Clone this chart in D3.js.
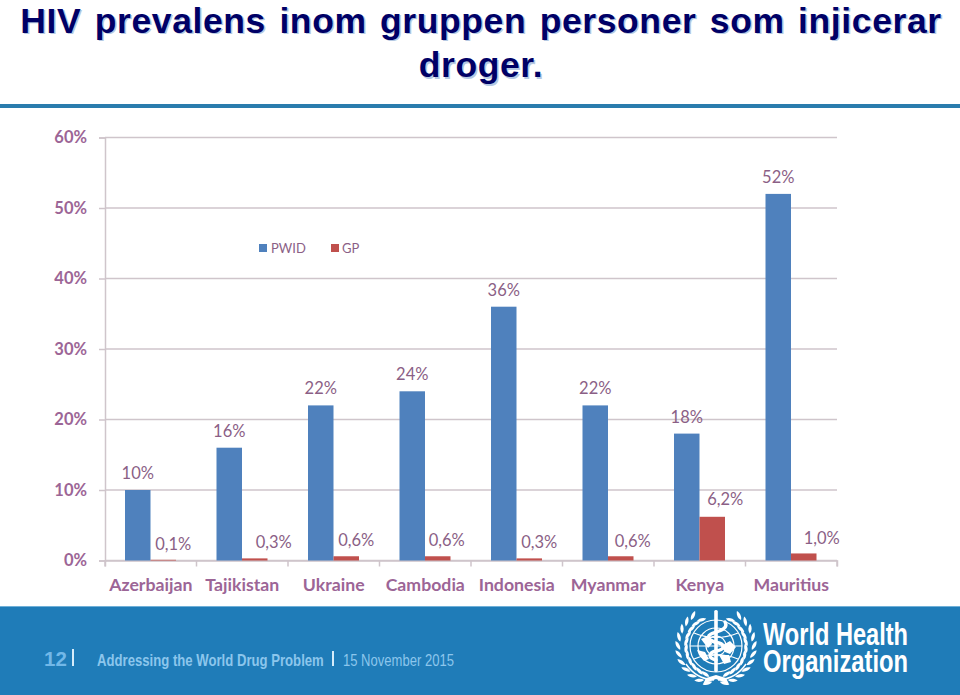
<!DOCTYPE html>
<html>
<head>
<meta charset="utf-8">
<script src="https://cdnjs.cloudflare.com/ajax/libs/d3/7.9.0/d3.min.js"></script>
<style>
html,body{margin:0;padding:0;background:#fff;overflow:hidden}
svg{display:block}
text{font-kerning:normal}
</style>
</head>
<body>
<svg id="c" width="960" height="695"></svg>
<script>
const categories = ["Azerbaijan","Tajikistan","Ukraine","Cambodia","Indonesia","Myanmar","Kenya","Mauritius"];
const pwid = [10,16,22,24,36,22,18,52];
const gp = [0.1,0.3,0.6,0.6,0.3,0.6,6.2,1.0];
const pwidLabels = ["10%","16%","22%","24%","36%","22%","18%","52%"];
const gpLabels = ["0,1%","0,3%","0,6%","0,6%","0,3%","0,6%","6,2%","1,0%"];
const yTicks = [0,10,20,30,40,50,60];
const seriesNames = ["PWID","GP"];
const titleLines = ["HIV prevalens inom gruppen personer som injicerar","droger."];
// hand-placed data label nudges seen in the picture, in px
const gpNudgeX = [10,19,10,9,10,12,13,18], gpNudgeY = [0,0,0,0,0,1,-2,1];

const svg = d3.select("#c");
const labelCol = "#8b5f86", axisLabelCol = "#9c6596", gridCol = "#cfc5cb";
const chartFont = "Lato, 'Open Sans', sans-serif";

// title
const title = svg.append("g").attr("font-family","'Liberation Sans',Arial,sans-serif")
  .attr("font-weight",700).attr("font-size",35.5).attr("letter-spacing",0.6).attr("word-spacing",3).attr("text-anchor","middle");
titleLines.forEach((t,i)=>{
  title.append("text").attr("x",482.5).attr("y",34+i*44.5).attr("fill","#b5c8e2").text(t);
  title.append("text").attr("x",481).attr("y",32.5+i*44.5).attr("fill","#000066").text(t);
});
svg.append("rect").attr("x",0).attr("y",104).attr("width",960).attr("height",4).attr("fill","#2a7cad");

// chart
const x = d3.scaleBand().domain(categories).range([105,837]);
const y = d3.scaleLinear().domain([0,60]).range([560.5,137.5]);
const inner = d3.scaleBand().domain(seriesNames).range([20,71]);

const yAxis = d3.axisLeft(y).tickValues(yTicks).tickFormat(d=>d+"%").tickSize(6).tickPadding(12);
const gy = svg.append("g").attr("transform","translate(105,0)").call(yAxis);
gy.select(".domain").attr("stroke",gridCol).attr("stroke-width",1.5);
gy.selectAll(".tick line").attr("stroke",gridCol).attr("stroke-width",1.5);
gy.selectAll("text").attr("font-family",chartFont).attr("font-size",16.5).attr("font-weight",700).attr("fill",axisLabelCol);

svg.append("g").selectAll("line").data(yTicks).join("line")
  .attr("x1",105).attr("x2",837).attr("y1",d=>y(d)).attr("y2",d=>y(d))
  .attr("stroke",gridCol).attr("stroke-width",1.5);

const gx = svg.append("g").attr("transform","translate(0,560.5)")
  .call(d3.axisBottom(x).tickSize(6).tickPadding(8));
gx.select(".domain").attr("stroke",gridCol).attr("stroke-width",1.5);
gx.selectAll(".tick line").attr("stroke",gridCol).attr("stroke-width",1.5)
  .attr("transform",`translate(${-x.bandwidth()/2},0)`);
gx.append("line").attr("x1",837).attr("x2",837).attr("y1",0).attr("y2",6).attr("stroke",gridCol).attr("stroke-width",1.5);
gx.selectAll("text").attr("font-family",chartFont).attr("font-size",17.7).attr("font-weight",700)
  .attr("fill",axisLabelCol).attr("dy","0.95em");

const groups = svg.append("g").selectAll("g").data(categories).join("g");
groups.append("rect").attr("x",d=>x(d)+inner("PWID")).attr("width",inner.bandwidth())
  .attr("y",(d,i)=>y(pwid[i])).attr("height",(d,i)=>y(0)-y(pwid[i])).attr("fill","#4f81bd");
groups.append("rect").attr("x",d=>x(d)+inner("GP")).attr("width",inner.bandwidth())
  .attr("y",(d,i)=>y(gp[i])).attr("height",(d,i)=>y(0)-y(gp[i])).attr("fill","#c0504d");
groups.append("text").attr("x",d=>x(d)+inner("PWID")+inner.bandwidth()/2)
  .attr("y",(d,i)=>y(pwid[i])-11).attr("text-anchor","middle")
  .attr("font-family",chartFont).attr("font-size",16.5).attr("fill",labelCol).text((d,i)=>pwidLabels[i]);
groups.append("text").attr("x",(d,i)=>x(d)+inner("GP")+inner.bandwidth()/2+gpNudgeX[i])
  .attr("y",(d,i)=>y(gp[i])-10+gpNudgeY[i]).attr("text-anchor","middle")
  .attr("font-family",chartFont).attr("font-size",16.5).attr("fill",labelCol).text((d,i)=>gpLabels[i]);

// legend
const legendX = d3.scaleOrdinal().domain(seriesNames).range([259,331]);
const legendCol = d3.scaleOrdinal().domain(seriesNames).range(["#4f81bd","#c0504d"]);
const lg = svg.append("g").selectAll("g").data(seriesNames).join("g")
  .attr("transform",d=>`translate(${legendX(d)},244)`);
lg.append("rect").attr("width",8).attr("height",8).attr("fill",d=>legendCol(d));
lg.append("text").attr("x",d=>d==="PWID"?12:11).attr("y",9).attr("font-family",chartFont)
  .attr("font-size",13).attr("fill",labelCol).text(d=>d);

// footer
svg.append("rect").attr("x",0).attr("y",606).attr("width",960).attr("height",89).attr("fill","#1f7cb8");
svg.append("rect").attr("x",0).attr("y",606).attr("width",960).attr("height",1).attr("fill","#6fb0d8");
const ft = svg.append("g").attr("fill","#8cc6ec").attr("font-family","'Liberation Sans',Arial,sans-serif");
ft.append("text").attr("x",44).attr("y",666).attr("font-size",20.5).attr("font-weight",700).attr("fill","#72b8e8").text("12");
ft.append("rect").attr("x",72).attr("y",649).attr("width",2).attr("height",17).attr("fill","#d6ecfa");
ft.append("rect").attr("x",332).attr("y",651).attr("width",2).attr("height",15).attr("fill","#d6ecfa");
function fitted(str, left, width, weight){
  const t = ft.append("text").attr("font-size",16.5).attr("font-weight",weight)
    .attr("font-family","'Liberation Sans Narrow','Liberation Sans',sans-serif").text(str);
  const len = t.node().getComputedTextLength();
  t.attr("transform",`translate(${left},665.5) scale(${width/len},1)`);
}
fitted("Addressing the World Drug Problem",97,227,700);
fitted("15 November 2015",343,111,400);

// WHO mark
const who = svg.append("g").attr("fill","#fff");
const wt = who.append("g").attr("font-family","'Liberation Sans Narrow','Liberation Sans',sans-serif").attr("font-weight",700).attr("font-size",30.5);
wt.append("text").attr("x",763).attr("y",645).attr("textLength",145).attr("lengthAdjust","spacingAndGlyphs").text("World Health");
wt.append("text").attr("x",763).attr("y",672).attr("textLength",145).attr("lengthAdjust","spacingAndGlyphs").text("Organization");

const emblem = who.append("g").attr("transform","translate(716,646)");
const ring = emblem.append("g").attr("fill","none").attr("stroke","#fff").attr("stroke-width",1.2);
[26,18,10].forEach(r=>ring.append("circle").attr("r",r));
ring.append("line").attr("x1",-26).attr("x2",26);
ring.append("line").attr("y1",-26).attr("y2",26);
ring.append("path").attr("d","M-22-13Q0-4 22-13M-22 13Q0 4 22 13");
// staff and serpent
emblem.append("rect").attr("x",-1.8).attr("y",-36).attr("width",3.6).attr("height",62).attr("rx",1.5);
emblem.append("path").attr("fill","none").attr("stroke","#fff").attr("stroke-width",3.4).attr("stroke-linecap","round")
  .attr("d","M9-24C13-17 3-15-5-12C-12-8-4-4 3-3C10-1 8 4 0 5C-8 7-8 12 0 14");
// continents
emblem.append("path").attr("d","M-15-7L-6-11L-4-2L-8 2L-12-3ZM-19 4L-11 6L-7 13L-12 15L-17 9ZM5 0L14-5L20 1L14 8L9 6ZM3 9L13 9L15 16L8 18Z");
// wreath leaves, mirrored
const wreath = [];
d3.range(-52,80,13).forEach(a=>{ wreath.push({a,r:31.5,tilt:-22}); wreath.push({a:a+6,r:36,tilt:22}); });
[-1,1].forEach(s=>{
  const w = emblem.append("g").attr("transform",`scale(${s},1)`);
  w.selectAll("path.leaf").data(wreath).join("path").attr("class","leaf")
   .attr("d","M0 0C2.2-3 2.2-7 0-10C-2.2-7-2.2-3 0 0Z")
   .attr("transform",d=>{
     const rad = d.a*Math.PI/180;
     return `translate(${d.r*Math.cos(rad)},${d.r*Math.sin(rad)}) rotate(${d.a+d.tilt})`;
   });
  w.append("path").attr("fill","none").attr("stroke","#fff").attr("stroke-width",1.4)
   .attr("d","M2 34Q20 33 30 18");
});
emblem.append("path").attr("d","M-10 32L0 29L10 32L13 38L0 33L-13 38Z");
</script>
</body>
</html>
